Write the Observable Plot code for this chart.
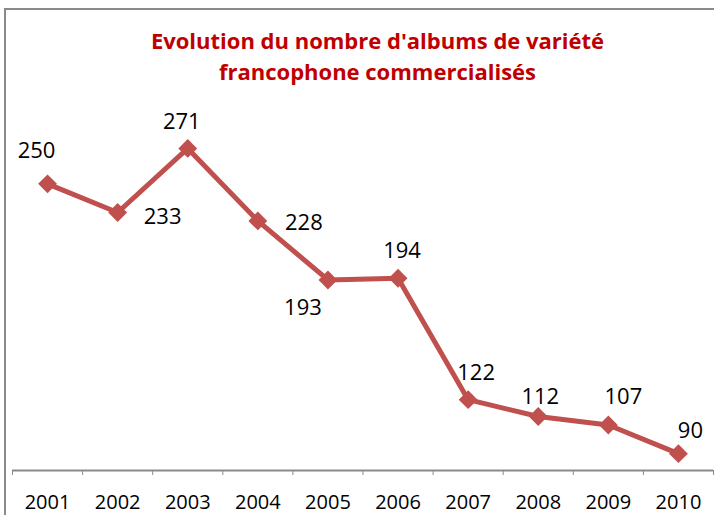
<!DOCTYPE html>
<html>
<head>
<meta charset="utf-8">
<script src="https://cdn.jsdelivr.net/npm/d3@7"></script>
<script src="https://cdn.jsdelivr.net/npm/@observablehq/plot@0.6"></script>
<style>
  html, body { margin: 0; padding: 0; background: #fff; }
  #wrap { position: relative; width: 714px; height: 515px; overflow: hidden; background: #fff; }
  #frame { position: absolute; left: 4px; top: 8px; width: 800px; height: 600px;
           border-left: 2px solid #8a8a8a; border-top: 2px solid #8a8a8a; }
  #title { position: absolute; left: 0; top: 25px; width: 755px; text-align: center;
           font-family: "Open Sans", sans-serif; font-weight: 700; font-size: 22px;
           line-height: 31px; color: #C00000; }
  #chart { position: absolute; left: 0; top: 0; }
</style>
</head>
<body>
<div id="wrap">
  <div id="frame"></div>
  <div id="chart"></div>
  <div id="title">Evolution du nombre d'albums de variété<br>francophone commercialisés</div>
</div>
<script>
// Data
const years = [2001, 2002, 2003, 2004, 2005, 2006, 2007, 2008, 2009, 2010];
const albums = [250, 233, 271, 228, 193, 194, 122, 112, 107, 90];
// Label placement (pixel offsets of each value label from its point)
const labelDx = [-11, 45, -6, 46, -25, 4, 8, 2, 15, 12];
const labelDy = [-33, 4, -26, 2, 28, -27, -27, -20, -28, -23];

const yMin = 80, yMax = 300;
const data = years.map((year, i) => ({year, value: albums[i]}));
const boundaries = [years[0] - 0.5, ...years.map(y => y + 0.5)];

const red = "#C0504D";
const font = "'Open Sans', sans-serif";

const labelMarks = data.map((d, i) =>
  Plot.text([d], {
    x: "year", y: "value", text: d => String(d.value),
    dx: labelDx[i], dy: labelDy[i],
    fill: "#000", fontSize: 22, fontFamily: font
  })
);

const chart = Plot.plot({
  width: 714,
  height: 515,
  marginLeft: 12,
  marginRight: 1,
  marginTop: 99,
  marginBottom: 45,
  style: {fontFamily: font, fontSize: "20px", color: "#8a8a8a", background: "transparent", overflow: "visible"},
  x: {type: "linear", domain: [boundaries[0], boundaries[boundaries.length - 1]],
      ticks: boundaries, tickSize: 5, tickFormat: () => "", label: null},
  y: {domain: [yMin, yMax], axis: null},
  marks: [
    Plot.ruleY([yMin], {stroke: "#8a8a8a", strokeWidth: 2}),
    Plot.line(data, {x: "year", y: "value", stroke: red, strokeWidth: 5}),
    Plot.dot(data, {x: "year", y: "value", symbol: "diamond2", r: 8.5, fill: red, stroke: "none"}),
    ...labelMarks,
    Plot.text(years, {x: d => d, frameAnchor: "bottom", dy: 38, text: d => String(d),
                      fill: "#000", fontSize: 20, fontFamily: font})
  ]
});
document.getElementById("chart").appendChild(chart);
</script>
</body>
</html>
